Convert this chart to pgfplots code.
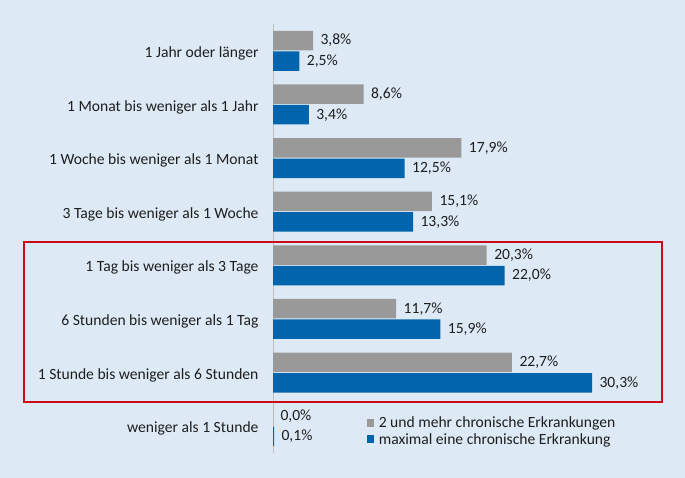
\documentclass[border=0pt]{standalone}
\usepackage{pgfplots}
\pgfplotsset{compat=1.18}
\usepackage{fontspec}
\setmainfont{Carlito}
\definecolor{bgc}{RGB}{221,234,246}
\definecolor{greyc}{RGB}{153,153,153}
\definecolor{bluec}{RGB}{0,101,173}
\definecolor{redc}{RGB}{204,10,25}
\definecolor{txt}{RGB}{30,30,30}
\begin{document}
\begin{tikzpicture}
\useasboundingbox (0,0) rectangle (685bp,478bp);
\fill[bgc] (0,0) rectangle (685bp,478bp);
\begin{axis}[
  at={(273bp,25bp)}, anchor=south west,
  scale only axis, width=368.5bp, height=429bp,
  xmin=0, xmax=35, ymin=-0.5, ymax=7.5, y dir=reverse,
  clip=false,
  /pgf/number format/assume math mode=true,
  axis x line=none,
  axis y line*=left,
  y axis line style={draw={rgb,255:red,191;green,191;blue,191}, line width=0.8bp, -},
  ytick={0,...,7},
  yticklabels={1 Jahr oder länger,1 Monat bis weniger als 1 Jahr,1 Woche bis weniger als 1 Monat,3 Tage bis weniger als 1 Woche,1 Tag bis weniger als 3 Tage,6 Stunden bis weniger als 1 Tag,1 Stunde bis weniger als 6 Stunden,weniger als 1 Stunde},
  major tick length=0pt,
  yticklabel style={font=\fontsize{15.6bp}{18bp}\selectfont, text=txt, xshift=-11bp, yshift=-2.5bp},
  xbar, bar width=19.5bp,
  nodes near coords={\pgfmathprintnumber[fixed,fixed zerofill,precision=1,use comma,assume math mode=true]{\pgfplotspointmeta}\%},
  nodes near coords style={font=\fontsize{15.6bp}{18bp}\selectfont, text=txt, anchor=west, xshift=4bp},
  legend style={at={(0.254,0.089)}, anchor=north west, draw=none, fill=none, inner sep=0pt,
    font=\fontsize{15.6bp}{18bp}\selectfont, text=txt, row sep=0bp},
  legend cell align=left,
  legend image code/.code={\fill[#1] (0bp,-3.5bp) rectangle (7.5bp,4bp); \path (10bp,0bp);},
]
\addplot[fill=greyc, draw=none, bar shift=10.25bp] coordinates {(3.8,0) (8.6,1) (17.9,2) (15.1,3) (20.3,4) (11.7,5) (22.7,6) (0,7)};
\addplot[fill=bluec, draw=none, bar shift=-10.25bp] coordinates {(2.5,0) (3.4,1) (12.5,2) (13.3,3) (22.0,4) (15.9,5) (30.3,6) (0.1,7)};
\legend{2 und mehr chronische Erkrankungen, maximal eine chronische Erkrankung}
\end{axis}
\draw[redc, line width=2.4bp] (24bp,76bp) rectangle (662bp,236bp);
\end{tikzpicture}
\end{document}
